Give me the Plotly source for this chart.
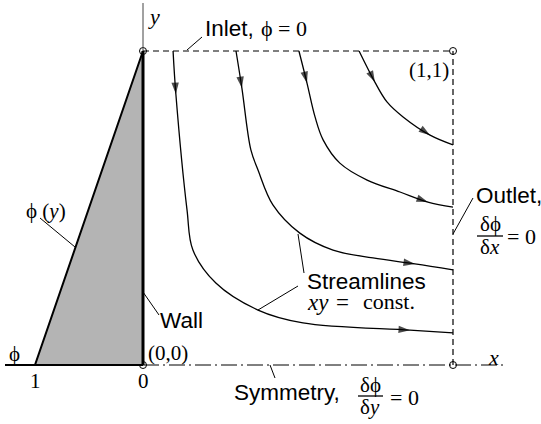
import plotly.graph_objects as go

# ---------------- data ----------------
# streamlines xy = const, x and y in domain units
stream_const = [0.1, 0.3, 0.5, 0.7]
s1_x = [0.097, 0.106, 0.142, 0.161, 0.235, 0.371, 0.516, 0.861, 1.0]
s1_y = [1.0, 0.863, 0.494, 0.366, 0.261, 0.175, 0.134, 0.111, 0.102]
s2_x = [0.300, 0.319, 0.348, 0.371, 0.419, 0.506, 0.613, 0.742, 0.877, 1.0]
s2_y = [1.0, 0.882, 0.685, 0.621, 0.510, 0.420, 0.366, 0.341, 0.322, 0.303]
s3_x = [0.503, 0.529, 0.555, 0.581, 0.635, 0.723, 0.829, 0.919, 1.0]
s3_y = [1.0, 0.898, 0.790, 0.717, 0.643, 0.589, 0.551, 0.519, 0.503]
s4_x = [0.697, 0.748, 0.787, 0.839, 0.926, 1.0]
s4_y = [1.0, 0.901, 0.838, 0.790, 0.732, 0.701]

# boundary profile phi(y) on the wall
phi_y = [1.0, 0.0, 0.0]
phi_val = [0.0, 1.0, 0.0]
phi_ticks = [1, 0]

# domain corners
corner_x = [0, 1, 0, 1]
corner_y = [1, 1, 0, 0]

# ---------------- layout helpers ----------------
W, H = 541, 424
OX, OY, SX, SY = 143, 365, 310, 314   # pixel origin and scale of x/y
PHI_S = 108                            # pixels per unit phi


def px(p):
    return (p - OX) / SX


def py(p):
    return (OY - p) / SY


SANS = "Liberation Sans, Arial, sans-serif"
SERIF = "Liberation Serif, Times New Roman, serif"
PHI = "\u03d5"

fig = go.Figure()

# shaded phi profile
fig.add_trace(go.Scatter(x=phi_val, y=phi_y, xaxis="x2", fill="toself",
                         fillcolor="#b4b4b4", mode="lines",
                         line=dict(color="black", width=2), hoverinfo="skip"))

# phi axis line (solid) on left
fig.add_shape(type="line", x0=px(5), x1=0, y0=0, y1=0,
              line=dict(color="black", width=2))
# symmetry line (dash-dot)
fig.add_shape(type="line", x0=0, x1=px(505), y0=0, y1=0,
              line=dict(color="black", width=1, dash="16px,4px,2px,4px"))
# y axis above
fig.add_shape(type="line", x0=0, x1=0, y0=1, y1=py(3),
              line=dict(color="#444", width=1))
# wall
fig.add_shape(type="line", x0=0, x1=0, y0=0, y1=1,
              line=dict(color="black", width=3))
# inlet and outlet dashed
fig.add_shape(type="line", x0=0, x1=1, y0=1, y1=1,
              line=dict(color="black", width=1.2, dash="6px,4px"))
fig.add_shape(type="line", x0=1, x1=1, y0=0, y1=1,
              line=dict(color="black", width=1.2, dash="6px,4px"))

# streamlines
for sx, sy in [(s1_x, s1_y), (s2_x, s2_y), (s3_x, s3_y), (s4_x, s4_y)]:
    fig.add_trace(go.Scatter(x=sx, y=sy, mode="lines", line_shape="spline",
                             line=dict(color="black", width=1.3), hoverinfo="skip"))
    sizes = [0] * len(sx)
    sizes[1] = 12
    sizes[-2] = 12
    fig.add_trace(go.Scatter(x=sx, y=sy, mode="markers", hoverinfo="skip",
                             marker=dict(symbol="arrow", size=sizes, angleref="previous",
                                         color="black", line=dict(width=0))))

# corner circles
fig.add_trace(go.Scatter(x=corner_x, y=corner_y, mode="markers", hoverinfo="skip",
                         marker=dict(symbol="circle", size=7, color="white",
                                     line=dict(color="black", width=1))))

# leader lines (pixel coordinates)
leaders = [((187, 50), (202, 37)), ((40, 218), (75, 247)), ((143, 292), (159, 315)),
           ((298, 234), (304, 273)), ((258, 310), (298, 286)), ((453, 234), (473, 198)),
           ((270, 365), (275, 378))]
for (a, b) in leaders:
    fig.add_shape(type="line", x0=px(a[0]), y0=py(a[1]), x1=px(b[0]), y1=py(b[1]),
                  line=dict(color="black", width=1))

# fraction bars
for (xa, xb, yb) in [(477, 503, 236), (358, 383, 396)]:
    fig.add_shape(type="line", x0=px(xa), x1=px(xb), y0=py(yb), y1=py(yb),
                  line=dict(color="black", width=1.3))


def text(t, x, y, font=SANS, size=22.5, anchor="left", ref="x"):
    fig.add_annotation(x=px(x) if ref == "x" else x, y=py(y), xref=ref, yref="y",
                       text=t, showarrow=False, xanchor=anchor, yanchor="middle",
                       font=dict(family=font, size=size, color="black"))


text("<i>y</i>", 146, 16, SERIF, 22)
text("Inlet,", 203, 28)
text(PHI + " = 0", 259, 28, SERIF, 22)
text("(1,1)", 451, 70, SERIF, 21, anchor="right")
text("Outlet,", 474, 195)
text("\u03b4" + PHI, 490, 224, SERIF, 21, anchor="center")
text("\u03b4<i>x</i>", 490, 247, SERIF, 21, anchor="center")
text("= 0", 505, 236, SERIF, 22)
text(PHI + " (<i>y</i>)", 24, 211, SERIF, 21)
text("Wall", 158, 320)
text("(0,0)", 146, 353, SERIF, 21)
text(PHI, 7, 354, SERIF, 21)
for t in phi_ticks:
    fig.add_annotation(x=t, y=py(381), xref="x2", yref="y", text=str(t), showarrow=False,
                       xanchor="center", yanchor="middle",
                       font=dict(family=SERIF, size=21, color="black"))
text("Streamlines", 305, 281)
text("<i>xy</i>", 305, 302, SERIF, 23)
text("=", 334, 302, SERIF, 23)
text("const.", 361, 301, SERIF, 22)
text("<i>x</i>", 486, 357, SERIF, 22)
text("Symmetry,", 232, 392)
text("\u03b4" + PHI, 370, 385, SERIF, 21, anchor="center")
text("\u03b4<i>y</i>", 370, 407, SERIF, 21, anchor="center")
text("= 0", 388, 397, SERIF, 22)

fig.update_layout(
    width=W, height=H, margin=dict(l=0, r=0, t=0, b=0),
    paper_bgcolor="white", plot_bgcolor="white", showlegend=False,
    xaxis=dict(range=[px(0), px(W)], visible=False, fixedrange=True),
    xaxis2=dict(range=[OX / PHI_S, (OX - W) / PHI_S], overlaying="x", visible=False,
                fixedrange=True),
    yaxis=dict(range=[py(H), py(0)], visible=False, fixedrange=True),
)

fig.write_html("out.html", config={"displayModeBar": False},
               post_script="document.body.style.margin='0';document.body.style.overflow='hidden';")
